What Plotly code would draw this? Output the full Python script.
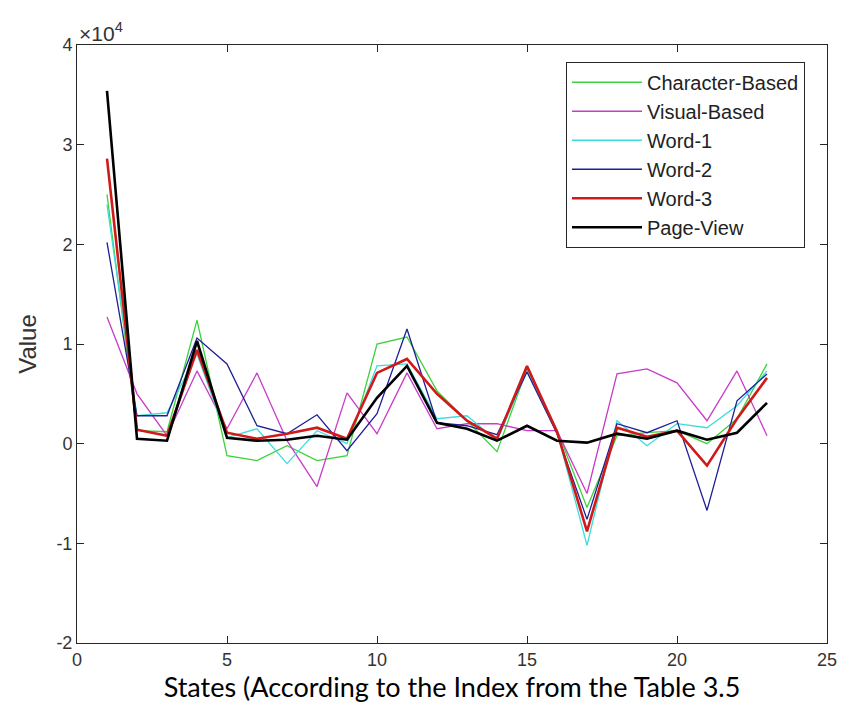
import plotly.graph_objects as go

states = list(range(1, 24))
character_based = [25000, 1300, 1200, 12400, -1200, -1700, -200, -1700, -1200, 10000, 10700, 5300, 2300, -800, 7500, 1400, -6400, 800, 1100, 1300, 0, 2500, 8000]
visual_based = [12700, 5000, 800, 7300, 1500, 7100, 300, -4300, 5100, 1000, 7100, 1500, 2000, 2000, 1300, 1300, -5000, 7000, 7500, 6100, 2300, 7300, 800]
word_1 = [24000, 2800, 3100, 9000, 600, 1500, -2000, 1300, 0, 7800, 8000, 2500, 2800, 300, 7300, 1200, -10200, 2300, -200, 2000, 1600, 3800, 7300]
word_2 = [20200, 2800, 2800, 10600, 8000, 1800, 1000, 2900, -700, 3000, 11500, 2100, 1800, 900, 7200, 1000, -7600, 2000, 1100, 2300, -6700, 4300, 7000]
word_3 = [28600, 1400, 800, 9400, 1100, 500, 1000, 1600, 500, 7100, 8500, 5000, 2300, 500, 7800, 1200, -8800, 1600, 700, 1300, -2200, 2500, 6600]
page_view = [35400, 500, 300, 10300, 600, 300, 400, 800, 400, 4600, 7800, 2100, 1500, 300, 1800, 300, 100, 1000, 500, 1300, 400, 1100, 4100]

x_ticks = [0, 5, 10, 15, 20, 25]
y_tick_vals = [-20000, -10000, 0, 10000, 20000, 30000, 40000]
y_tick_text = ["-2", "-1", "0", "1", "2", "3", "4"]

series = [
    ("Character-Based", character_based, "#3cd23c", 1.3),
    ("Visual-Based", visual_based, "#c83cc8", 1.3),
    ("Word-1", word_1, "#3cdcdc", 1.3),
    ("Word-2", word_2, "#1e1e96", 1.3),
    ("Word-3", word_3, "#d01a1a", 2.6),
    ("Page-View", page_view, "#000000", 2.6),
]

fig = go.Figure()
for name, vals, color, w in series:
    fig.add_trace(go.Scatter(x=states, y=vals, mode="lines", name=name,
                             line=dict(color=color, width=w)))

axis_common = dict(showline=True, linecolor="#262626", linewidth=1, mirror="ticks",
                   ticks="inside", ticklen=7, tickcolor="#262626", showgrid=False,
                   zeroline=False, tickfont=dict(family="Liberation Sans", size=18, color="#333333"))

fig.update_layout(
    width=849, height=710,
    margin=dict(l=77, r=17, t=45, b=67),
    paper_bgcolor="white", plot_bgcolor="white",
    xaxis=dict(range=[0, 25], tickvals=x_ticks,
               title=dict(text="States (According to the Index from the Table 3.5",
                          font=dict(family="Lato", size=27, color="#000000"), standoff=4),
               **axis_common),
    yaxis=dict(range=[-20000, 40000], tickvals=y_tick_vals, ticktext=y_tick_text,
               title=dict(text="Value", font=dict(family="Liberation Sans", size=24, color="#333333"), standoff=12),
               **axis_common),
    legend=dict(x=0.652, y=0.972, xanchor="left", yanchor="top",
                bordercolor="#262626", borderwidth=1, bgcolor="white",
                font=dict(family="Liberation Sans", size=20, color="#222222"),
                itemwidth=70, tracegroupgap=0),
    showlegend=True,
)
fig.add_annotation(text="×10<sup>4</sup>", xref="paper", yref="paper", x=0.0, y=1.0,
                   xanchor="left", yanchor="bottom", showarrow=False,
                   font=dict(family="Liberation Sans", size=21, color="#333333"), yshift=-2)

fig.write_html("out.html")
